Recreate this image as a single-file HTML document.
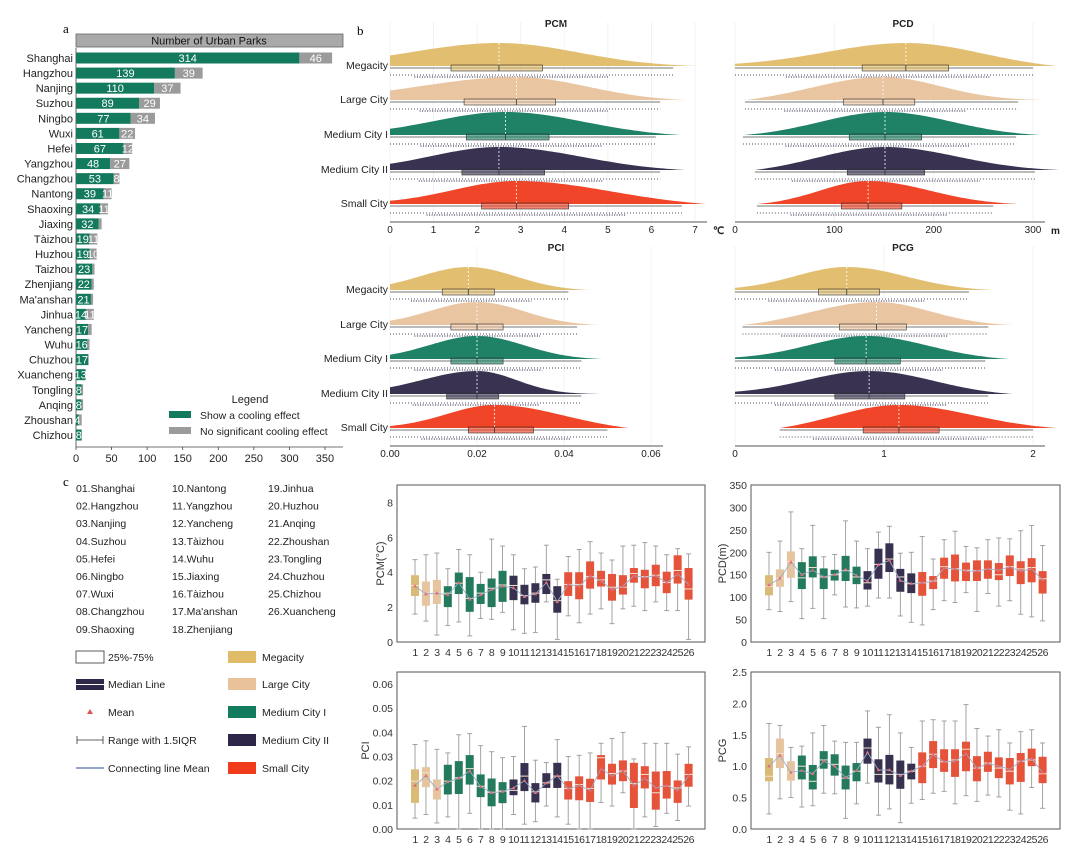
<!DOCTYPE html>
<html><head><meta charset="utf-8"><style>
body{margin:0;background:#fff;}
svg{display:block;font-family:"Liberation Sans",sans-serif;}
</style></head><body>
<svg id="fig" width="1080" height="864" viewBox="0 0 1080 864" xmlns="http://www.w3.org/2000/svg">
<text x="63" y="33" font-family="Liberation Serif" font-size="13">a</text>
<text x="357" y="35" font-family="Liberation Serif" font-size="13">b</text>
<text x="63" y="486" font-family="Liberation Serif" font-size="13">c</text>
<g id="pa"></g>
<g id="pb"></g>
<g id="pc"></g>
</svg>
<script>
// ---------- Panel a data ----------
const cities = ["Shanghai","Hangzhou","Nanjing","Suzhou","Ningbo","Wuxi","Hefei","Yangzhou","Changzhou","Nantong","Shaoxing","Jiaxing","Tàizhou","Huzhou","Taizhou","Zhenjiang","Ma'anshan","Jinhua","Yancheng","Wuhu","Chuzhou","Xuancheng","Tongling","Anqing","Zhoushan","Chizhou"];
const cooling = [314,139,110,89,77,61,67,48,53,39,34,32,19,19,23,22,21,14,17,16,17,13,8,8,4,8];
const noCooling = [46,39,37,29,34,22,12,27,8,11,11,4,11,10,3,3,3,11,5,3,1,1,2,2,4,0];
const barTicks = [0,50,100,150,200,250,300,350];

// ---------- Panel b data ----------
const groups = ["Megacity","Large City","Medium City I","Medium City II","Small City"];
const pcmQ1=[1.4,1.7,1.75,1.65,2.1], pcmMedG=[2.5,2.9,2.65,2.5,2.9], pcmQ3=[3.5,3.8,3.65,3.55,4.1], pcmLoG=[0,0,0,0,0], pcmHiG=[6.5,6.2,6.1,6.2,6.7];
const pcdQ1=[128,109,115,113,107], pcdMedG=[172,149,151,151,134], pcdQ3=[215,181,188,191,168], pcdLoG=[0,10,8,20,22], pcdHiG=[300,285,283,302,260];
const pciQ1=[0.012,0.014,0.014,0.013,0.018], pciMedG=[0.018,0.020,0.020,0.020,0.024], pciQ3=[0.024,0.026,0.026,0.025,0.033], pciLoG=[0,0,0,0,0], pciHiG=[0.041,0.043,0.044,0.044,0.050];
const pcgQ1=[0.56,0.70,0.67,0.67,0.86], pcgMedG=[0.75,0.95,0.88,0.90,1.10], pcgQ3=[0.97,1.15,1.11,1.14,1.37], pcgLoG=[0,0.05,0,0,0.3], pcgHiG=[1.57,1.70,1.68,1.70,2.00];
const pcmTicks=[0,1,2,3,4,5,6,7], pcdTicks=[0,100,200,300], pciTicks=[0,0.02,0.04,0.06], pcgTicks=[0,1,2];

// ---------- Panel c data ----------
const cats = ["1","2","3","4","5","6","7","8","9","10","11","12","13","14","15","16","17","18","19","20","21","22","23","24","25","26"];
const catGroup = [0,1,1,2,2,2,2,2,2,3,3,3,3,3,4,4,4,4,4,4,4,4,4,4,4,4];
const pcmBQ1=[2.64,2.08,2.18,2.0,2.75,1.73,2.18,2.0,2.3,2.4,2.16,2.25,2.75,1.68,2.64,2.45,3.06,3.18,2.37,2.72,3.4,3.08,3.2,2.8,3.35,2.43];
const pcmBMed=[3.24,2.8,2.8,2.8,3.37,2.5,2.8,3.08,3.27,3.24,2.66,2.8,3.56,2.37,3.3,3.3,3.75,3.56,3.14,3.14,3.93,3.75,3.83,3.41,4.1,3.04];
const pcmBQ3=[3.83,3.47,3.56,3.2,3.98,3.72,3.33,3.64,4.08,3.8,3.28,3.37,3.9,3.2,4.0,4.0,4.62,4.08,3.9,3.83,4.24,4.14,4.43,4.03,4.97,4.24];
const pcmBLo=[1.6,1.2,0.4,0.95,1.15,0.35,1.35,1.3,1.7,0.7,0.5,0.55,2.3,0.15,1.5,1.1,1.6,1.9,1.05,1.9,2.05,1.8,2.3,1.8,1.8,0.15];
const pcmBHi=[4.72,5.0,5.1,4.2,5.3,5.0,4.0,5.9,5.5,5.0,4.2,4.3,5.55,3.6,4.9,5.3,5.75,5.1,4.7,5.5,5.55,5.7,5.5,5.0,5.35,5.05];
const pcmBMean=[3.2,2.75,2.8,2.7,3.4,2.45,2.7,3.0,3.2,3.1,2.6,2.75,3.4,2.3,3.3,3.2,3.8,3.5,3.0,3.2,3.8,3.7,3.8,3.4,3.9,3.3];
const pcdBQ1=[104,123,143,118,144,118,137,136,129,117,141,156,112,109,103,118,141,135,136,136,141,138,147,129,133,108];
const pcdBMed=[124,141,179,143,166,145,150,159,145,132,173,185,145,130,132,136,168,163,160,159,162,150,168,163,166,141];
const pcdBQ3=[149,162,202,178,191,164,161,192,168,158,208,220,163,153,156,147,188,195,177,182,182,176,193,180,187,158];
const pcdBLo=[72,68,90,52,75,52,105,78,76,80,98,98,58,44,38,72,92,88,110,68,108,80,92,62,56,47];
const pcdBHi=[200,225,290,208,260,190,195,270,225,208,245,258,198,200,235,185,228,247,213,210,228,232,230,248,260,215];
const pcdBMean=[127,142,178,150,160,145,150,162,148,136,172,182,137,130,132,135,165,163,158,158,163,160,167,158,163,138];
const pciBQ1=[0.0108,0.0173,0.0122,0.0143,0.0145,0.0184,0.0132,0.0094,0.0107,0.014,0.0157,0.011,0.017,0.017,0.0122,0.0119,0.0112,0.0205,0.0184,0.0198,0.0087,0.0168,0.008,0.0126,0.0108,0.0175];
const pciBMed=[0.0198,0.0233,0.017,0.0198,0.0212,0.025,0.0177,0.0152,0.0157,0.016,0.0219,0.0154,0.0191,0.0219,0.0168,0.0184,0.0168,0.0295,0.023,0.024,0.0188,0.0226,0.015,0.0177,0.017,0.0226];
const pciBQ3=[0.0247,0.0256,0.0205,0.0266,0.0281,0.0306,0.0226,0.0209,0.0194,0.0205,0.0273,0.019,0.0231,0.0274,0.0198,0.0218,0.0208,0.0306,0.027,0.0284,0.0274,0.026,0.0238,0.024,0.0201,0.027];
const pciBLo=[0.0045,0.006,0.0025,0.005,0,0.0065,0,0,0,0.006,0.002,0.003,0.0095,0.005,0.002,0,0,0.011,0.0095,0.015,0,0.005,0.001,0.0065,0.0035,0.0095];
const pciBHi=[0.035,0.0365,0.033,0.0315,0.039,0.0395,0.0345,0.032,0.0295,0.030,0.0425,0.0285,0.0275,0.037,0.030,0.0305,0.0315,0.0355,0.0375,0.040,0.029,0.0355,0.0355,0.0355,0.031,0.034];
const pciBMean=[0.018,0.022,0.0165,0.0195,0.021,0.024,0.0175,0.015,0.0155,0.017,0.02,0.015,0.019,0.022,0.0165,0.018,0.016,0.025,0.022,0.024,0.018,0.021,0.017,0.018,0.016,0.022];
const pcgBQ1=[0.76,0.97,0.77,0.79,0.63,0.96,0.85,0.63,0.76,1.04,0.74,0.71,0.64,0.79,0.73,0.97,0.91,0.83,0.92,0.76,0.91,0.81,0.71,0.75,1.0,0.73];
const pcgBMed=[0.84,1.2,0.89,1.0,0.76,1.1,1.03,0.81,0.92,1.29,0.87,0.87,0.87,0.92,1.0,1.19,1.07,1.1,1.27,0.97,1.05,0.97,0.92,1.08,1.1,0.88];
const pcgBQ3=[1.13,1.44,1.08,1.17,1.02,1.24,1.19,1.01,1.05,1.44,1.11,1.18,1.09,1.04,1.22,1.4,1.27,1.27,1.39,1.16,1.23,1.14,1.13,1.21,1.28,1.15];
const pcgBLo=[0.24,0.48,0.5,0.35,0.37,0.57,0.56,0.17,0.4,0.73,0.22,0.32,0.1,0.41,0.47,0.57,0.6,0.4,0.53,0.44,0.54,0.51,0.3,0.24,0.66,0.33];
const pcgBHi=[1.68,1.65,1.3,1.32,1.53,1.65,1.4,1.38,1.38,1.88,1.62,1.82,1.53,1.3,1.72,1.74,1.72,1.72,1.98,1.6,1.48,1.58,1.37,1.55,1.58,1.37];
const pcgBMean=[1.0,1.17,0.9,0.93,0.88,1.08,1.0,0.82,0.93,1.22,0.94,0.94,0.85,0.92,1.0,1.18,1.07,1.08,1.2,0.97,1.04,1.0,0.95,1.08,1.12,0.9];

const ridgeColors=["#e0bb68","#e9c29c","#137b5e","#2e2747","#ef3b1c"];
const boxColors=["#d9bb77","#e6c4a0","#237a5c","#37304f","#e4533a"];
const NS="http://www.w3.org/2000/svg";
function mk(parent,tag,attrs,text){const e=document.createElementNS(NS,tag);for(const k in attrs)e.setAttribute(k,attrs[k]);if(text!==undefined)e.textContent=text;parent.appendChild(e);return e;}

// ================= Panel a =================
const pa=document.getElementById('pa');
const ax0=76, axPx=0.7114, rowY0=58, rowStep=15.08, barH=11;
const xA=v=>ax0+v*axPx;
const hdr=mk(pa,'rect',{x:76,y:34,width:267,height:13,fill:'#a9a9a9',stroke:'#666','stroke-width':0.8});

const ht=mk(pa,'text',{x:209,y:44.5,'font-size':11,'text-anchor':'middle',fill:'#111'},'Number of Urban Parks');

mk(pa,'line',{x1:76,y1:48,x2:76,y2:447,stroke:'#444','stroke-width':0.8});
mk(pa,'line',{x1:76,y1:447,x2:343,y2:447,stroke:'#444','stroke-width':0.8});
barTicks.forEach(t=>{const x=xA(t);mk(pa,'line',{x1:x,y1:447,x2:x,y2:450,stroke:'#444','stroke-width':0.8});
 const tl=mk(pa,'text',{x:x,y:462,'font-size':11,'text-anchor':'middle',fill:'#222'},String(t));
 });
cities.forEach((c,i)=>{const cy=rowY0+i*rowStep;
 const lab=mk(pa,'text',{x:73,y:cy+4,'font-size':11,'text-anchor':'end',fill:'#222'},c);
 
 const g=mk(pa,'rect',{x:xA(0),y:cy-barH/2,width:cooling[i]*axPx,height:barH,fill:'#137a5e'});
 
 const r=mk(pa,'rect',{x:xA(cooling[i]),y:cy-barH/2,width:noCooling[i]*axPx,height:barH,fill:'#9b9b9b'});
 
 const t1=mk(pa,'text',{x:xA(cooling[i]/2),y:cy+4,'font-size':11,'text-anchor':'middle',fill:'#fff'},String(cooling[i]));
 
 if(noCooling[i]>=8){const t2=mk(pa,'text',{x:xA(cooling[i]+noCooling[i]/2),y:cy+4,'font-size':11,'text-anchor':'middle',fill:'#fff'},String(noCooling[i]));
 }
});
const lt=mk(pa,'text',{x:250,y:403,'font-size':11,'text-anchor':'middle',fill:'#222'},'Legend');

const ls1=mk(pa,'rect',{x:169,y:411,width:22,height:7,fill:'#137a5e'});
const ll1=mk(pa,'text',{x:200,y:419,'font-size':10.5,fill:'#222'},'Show a cooling effect');
const ls2=mk(pa,'rect',{x:169,y:427,width:22,height:7,fill:'#9b9b9b'});
const ll2=mk(pa,'text',{x:200,y:435,'font-size':10.5,fill:'#222'},'No significant cooling effect');

// ================= Panel b =================
const pb=document.getElementById('pb');
function ridge(cfg){
 const {title,tx,x0,x1,vmax,axisY,rowYs,Q1,MED,Q3,LO,HI,ticks,fmt,unit,labels}=cfg;
 const sx=v=>x0+(v/vmax)*(x1-x0);
 const tt=mk(pb,'text',{x:tx,y:axisY-195,'font-size':10,'font-weight':'bold','text-anchor':'middle',fill:'#222'},title);
 
 ticks.forEach(t=>{mk(pb,'line',{x1:sx(t),y1:axisY-200,x2:sx(t),y2:axisY,stroke:'#f0f0f0','stroke-width':0.8});});
 mk(pb,'line',{x1:x0,y1:axisY,x2:x1+12,y2:axisY,stroke:'#555','stroke-width':0.9});
 ticks.forEach(t=>{const tl=mk(pb,'text',{x:sx(t),y:axisY+11,'font-size':10,'text-anchor':'middle',fill:'#222'},fmt(t));
  });
 if(unit){const u=mk(pb,'text',{x:x1+18,y:axisY+12,'font-size':10,'font-weight':'bold',fill:'#222'},unit);}
 groups.forEach((gname,i)=>{
  const by=rowYs[i], col=ridgeColors[i];
  if(labels){const l=mk(pb,'text',{x:388,y:by+3,'font-size':10.5,'text-anchor':'end',fill:'#222'},gname);
   }
  const sl=(MED[i]-Q1[i])/0.55, sr=(Q3[i]-MED[i])/0.55;
  const lo=Math.max(LO[i],MED[i]-3.2*sl), hi=Math.min(HI[i]+0.08*vmax,MED[i]+3.2*sr);
  const gf=(v)=>{const s=v<MED[i]?sl:sr;return Math.exp(-0.5*((v-MED[i])/s)**2);};
  const gLo=lo<=0.0001?0:gf(lo), gHi=gf(hi);
  let d=`M${sx(lo).toFixed(1)},${by}`;
  for(let k=0;k<=80;k++){const v=lo+(hi-lo)*k/80;const base=v<MED[i]?gLo:gHi;const h=23*Math.max(0,(gf(v)-base)/(1-base));d+=` L${sx(v).toFixed(1)},${(by-h).toFixed(1)}`;}
  d+=` L${sx(hi).toFixed(1)},${by} Z`;
  const p=mk(pb,'path',{d:d,fill:col,opacity:0.95});
  mk(pb,'line',{x1:sx(MED[i]),y1:by-23,x2:sx(MED[i]),y2:by,stroke:'#fff','stroke-width':0.8,'stroke-dasharray':'2 2'});
  const rl=mk(pb,'line',{x1:sx(LO[i]),y1:by+2,x2:sx(HI[i]),y2:by+2,stroke:'#777','stroke-width':0.9});
  
  const bx=mk(pb,'rect',{x:sx(Q1[i]),y:by-1,width:sx(Q3[i])-sx(Q1[i]),height:6,fill:col,'fill-opacity':0.6,stroke:'#333','stroke-width':0.6});
  
  mk(pb,'line',{x1:sx(MED[i]),y1:by-1,x2:sx(MED[i]),y2:by+5,stroke:'#333','stroke-width':0.8});
  mk(pb,'line',{x1:sx(LO[i]),y1:by+9,x2:sx(HI[i]),y2:by+9,stroke:'#3a3a55','stroke-width':1.6,'stroke-dasharray':'1 2','opacity':0.6});
  mk(pb,'line',{x1:sx(Q1[i]-(Q1[i]-LO[i])*0.6),y1:by+11,x2:sx(Q3[i]+(HI[i]-Q3[i])*0.5),y2:by+11,stroke:'#3a3a55','stroke-width':1.4,'stroke-dasharray':'1 1.5','opacity':0.8});
 });
}
const rowsTop=[66,100,135,170,204], rowsBot=[290,325,359,394,428];
ridge({title:'PCM',tx:556,x0:390,x1:695,vmax:7,axisY:222,rowYs:rowsTop,Q1:pcmQ1,MED:pcmMedG,Q3:pcmQ3,LO:pcmLoG,HI:pcmHiG,ticks:pcmTicks,fmt:t=>String(t),unit:'℃',labels:true});
ridge({title:'PCD',tx:903,x0:735,x1:1033,vmax:300,axisY:222,rowYs:rowsTop,Q1:pcdQ1,MED:pcdMedG,Q3:pcdQ3,LO:pcdLoG,HI:pcdHiG,ticks:pcdTicks,fmt:t=>String(t),unit:'m',labels:false});
ridge({title:'PCI',tx:556,x0:390,x1:651,vmax:0.06,axisY:446,rowYs:rowsBot,Q1:pciQ1,MED:pciMedG,Q3:pciQ3,LO:pciLoG,HI:pciHiG,ticks:pciTicks,fmt:t=>t.toFixed(2),unit:'',labels:true});
ridge({title:'PCG',tx:903,x0:735,x1:1033,vmax:2,axisY:446,rowYs:rowsBot,Q1:pcgQ1,MED:pcgMedG,Q3:pcgQ3,LO:pcgLoG,HI:pcgHiG,ticks:pcgTicks,fmt:t=>String(t),unit:'',labels:false});

// ================= Panel c =================
const pc=document.getElementById('pc');
const listNames=["01.Shanghai","02.Hangzhou","03.Nanjing","04.Suzhou","05.Hefei","06.Ningbo","07.Wuxi","08.Changzhou","09.Shaoxing","10.Nantong","11.Yangzhou","12.Yancheng","13.Tàizhou","14.Wuhu","15.Jiaxing","16.Tàizhou","17.Ma'anshan","18.Zhenjiang","19.Jinhua","20.Huzhou","21.Anqing","22.Zhoushan","23.Tongling","24.Chuzhou","25.Chizhou","26.Xuancheng"];
listNames.forEach((n,i)=>{const col=Math.floor(i/9),row=i%9;
 const t=mk(pc,'text',{x:76+col*96,y:492+row*17.6,'font-size':10.5,fill:'#222'},n);
 });
const lgY=[657,684,712,740,768];
const l0=mk(pc,'rect',{x:76,y:651,width:28,height:12,fill:'#fff',stroke:'#333','stroke-width':0.8});
const l1=mk(pc,'rect',{x:76,y:679,width:28,height:11,fill:'#2e2747'});
mk(pc,'line',{x1:76,y1:684.5,x2:104,y2:684.5,stroke:'#fff','stroke-width':1});
mk(pc,'path',{d:'M90,709 L93,714 L87,714 Z',fill:'#d9534f'});
mk(pc,'line',{x1:77,y1:740,x2:103,y2:740,stroke:'#333','stroke-width':0.8});
mk(pc,'line',{x1:77,y1:736,x2:77,y2:744,stroke:'#333','stroke-width':0.8});
mk(pc,'line',{x1:103,y1:736,x2:103,y2:744,stroke:'#333','stroke-width':0.8});
mk(pc,'line',{x1:76,y1:768,x2:104,y2:768,stroke:'#2b4b9b','stroke-width':1});
["25%-75%","Median Line","Mean","Range with 1.5IQR","Connecting line Mean"].forEach((t,i)=>{const e=mk(pc,'text',{x:108,y:lgY[i]+4,'font-size':10.5,fill:'#222'},t);});
groups.forEach((g,i)=>{const s=mk(pc,'rect',{x:228,y:lgY[i]-6,width:28,height:12,fill:ridgeColors[i]});
 const e=mk(pc,'text',{x:262,y:lgY[i]+4,'font-size':10.5,fill:'#222'},g);});

function boxPanel(cfg){
 const {L,R,T,B,vmax,ticks,fmt,title,titleX,Q1,MED,Q3,LO,HI,MEAN,c1,c26}=cfg;
 const sy=v=>B-(v/vmax)*(B-T);
 const sx=i=>c1+i*(c26-c1)/25;
 const fr=mk(pc,'rect',{x:L,y:T,width:R-L,height:B-T,fill:'none',stroke:'#555','stroke-width':1});
 
 ticks.forEach(t=>{const tl=mk(pc,'text',{x:L-4,y:sy(t)+4,'font-size':10.5,'text-anchor':'end',fill:'#333'},fmt(t));
  });
 const yt=mk(pc,'text',{x:titleX,y:(T+B)/2,'font-size':11,'text-anchor':'middle',fill:'#333',transform:`rotate(-90 ${titleX} ${(T+B)/2})`},title);
 
 cats.forEach((c,i)=>{const x=sx(i),col=boxColors[catGroup[i]];
  const tl=mk(pc,'text',{x:x,y:B+14,'font-size':10.5,'text-anchor':'middle',fill:'#333','letter-spacing':'-0.5'},c);
  
  mk(pc,'line',{x1:x,y1:sy(LO[i]),x2:x,y2:sy(HI[i]),stroke:'#999','stroke-width':0.9});
  mk(pc,'line',{x1:x-2.5,y1:sy(LO[i]),x2:x+2.5,y2:sy(LO[i]),stroke:'#999','stroke-width':0.9});
  mk(pc,'line',{x1:x-2.5,y1:sy(HI[i]),x2:x+2.5,y2:sy(HI[i]),stroke:'#999','stroke-width':0.9});
  const b=mk(pc,'rect',{x:x-4,y:sy(Q3[i]),width:8,height:sy(Q1[i])-sy(Q3[i]),fill:col});
  
  mk(pc,'line',{x1:x-4,y1:sy(MED[i]),x2:x+4,y2:sy(MED[i]),stroke:'#f3e2d0','stroke-width':1});
 });
 let d='';cats.forEach((c,i)=>{d+=(i?' L':'M')+sx(i).toFixed(1)+','+sy(MEAN[i]).toFixed(1);});
 const ml=mk(pc,'path',{d:d,fill:'none',stroke:'#9aaec8','stroke-width':0.9});
 cats.forEach((c,i)=>{const x=sx(i),y=sy(MEAN[i]);const m=mk(pc,'path',{d:`M${x},${y-2} L${x+1.8},${y+1.2} L${x-1.8},${y+1.2} Z`,fill:'#e06a7a'});
  });
}
boxPanel({L:397,R:705,T:485,B:642,vmax:9,ticks:[0,2,4,6,8],fmt:t=>String(t),title:'PCM(°C)',titleX:384,Q1:pcmBQ1,MED:pcmBMed,Q3:pcmBQ3,LO:pcmBLo,HI:pcmBHi,MEAN:pcmBMean,c1:415,c26:688.6});
boxPanel({L:751,R:1060,T:485,B:642,vmax:350,ticks:[0,50,100,150,200,250,300,350],fmt:t=>String(t),title:'PCD(m)',titleX:726,Q1:pcdBQ1,MED:pcdBMed,Q3:pcdBQ3,LO:pcdBLo,HI:pcdBHi,MEAN:pcdBMean,c1:769,c26:1042.6});
boxPanel({L:397,R:705,T:672,B:829,vmax:0.065,ticks:[0,0.01,0.02,0.03,0.04,0.05,0.06],fmt:t=>t.toFixed(2),title:'PCI',titleX:369,Q1:pciBQ1,MED:pciBMed,Q3:pciBQ3,LO:pciBLo,HI:pciBHi,MEAN:pciBMean,c1:415,c26:688.6});
boxPanel({L:751,R:1060,T:672,B:829,vmax:2.5,ticks:[0,0.5,1,1.5,2,2.5],fmt:t=>t.toFixed(1),title:'PCG',titleX:726,Q1:pcgBQ1,MED:pcgBMed,Q3:pcgBQ3,LO:pcgBLo,HI:pcgBHi,MEAN:pcgBMean,c1:769,c26:1042.6});
</script>
</body></html>
